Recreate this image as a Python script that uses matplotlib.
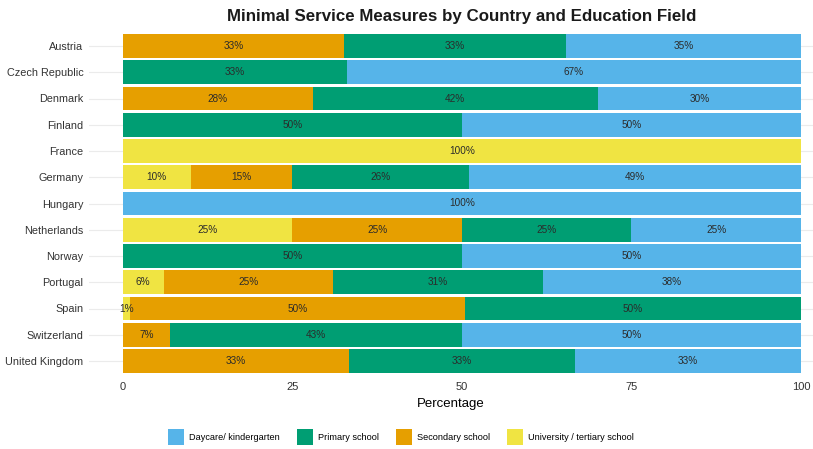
"""
Minimal service measures by country and education field (stacked, filled to 100%).
"""

import matplotlib.pyplot as plt
import numpy as np

plt.rcParams['font.family'] = ['Liberation Sans', 'DejaVu Sans']

COUNTRIES = ["Austria", "Czech Republic", "Denmark", "Finland", "France",
             "Germany", "Hungary", "Netherlands", "Norway", "Portugal",
             "Spain", "Switzerland", "United Kingdom"]

# shares as printed on the bars (some rows add up to 101)
university = [0, 0, 0, 0, 100, 10, 0, 25, 0, 6, 1, 0, 0]
secondary = [33, 0, 28, 0, 0, 15, 0, 25, 0, 25, 50, 7, 33]
primary = [33, 33, 42, 50, 0, 26, 0, 25, 50, 31, 50, 43, 33]
daycare = [35, 67, 30, 50, 0, 49, 100, 25, 50, 38, 0, 50, 33]

FIELDS = ["University / tertiary school", "Secondary school",
          "Primary school", "Daycare/ kindergarten"]
COLORS = ["#F0E442", "#E69F00", "#009E73", "#56B4E9"]
XTICKS = [0, 25, 50, 75, 100]

raw = np.array([university, secondary, primary, daycare], dtype=float)
share = raw / raw.sum(axis=0) * 100  # like position="fill"

fig = plt.figure(figsize=(8.13, 4.49), dpi=100)
ax = fig.add_axes([89 / 813, 1 - 376.75 / 449, 1 - 89 / 813, (376.75 - 30.25) / 449])

y = np.arange(len(COUNTRIES))
left = np.zeros(len(COUNTRIES))
handles = {}
for k in range(len(FIELDS)):
    bars = ax.barh(y, share[k], left=left, height=0.9, color=COLORS[k],
                   linewidth=0, zorder=2)
    handles[FIELDS[k]] = bars
    for i in range(len(COUNTRIES)):
        if raw[k, i] > 0:
            ax.text(left[i] + share[k, i] / 2, y[i], f"{int(raw[k, i])}%",
                    ha="center", va="center", fontsize=7.2, color="#2b2b2b",
                    zorder=3)
    left += share[k]

ax.set_xlim(-5, 100 + 12 / 6.78)
ax.set_ylim(len(COUNTRIES) - 0.4, -0.6)
ax.set_yticks(y)
ax.set_yticklabels(COUNTRIES, fontsize=7.8, color="#333333")
ax.set_xticks(XTICKS)
ax.set_xticklabels([str(t) for t in XTICKS], fontsize=8, color="#333333")
ax.tick_params(length=0, pad=4)
ax.grid(axis="y", color="#EBEBEB", linewidth=0.8, zorder=0)
ax.set_axisbelow(True)
for s in ax.spines.values():
    s.set_visible(False)
ax.set_xlabel("Percentage", fontsize=9.5, labelpad=4)

fig.text(462 / 813, 1 - 17 / 449, "Minimal Service Measures by Country and Education Field",
         ha="center", va="center", fontsize=12.2, fontweight="bold", color="#1a1a1a")

order = ["Daycare/ kindergarten", "Primary school", "Secondary school",
         "University / tertiary school"]
fig.legend([handles[o] for o in order], order, loc="center",
           bbox_to_anchor=(401 / 813, 1 - 437 / 449), ncol=4, frameon=False,
           fontsize=6.6, handlelength=1.75, handleheight=2.4, handletextpad=0.5,
           columnspacing=1.9)

fig.savefig("out.png", dpi=100)
